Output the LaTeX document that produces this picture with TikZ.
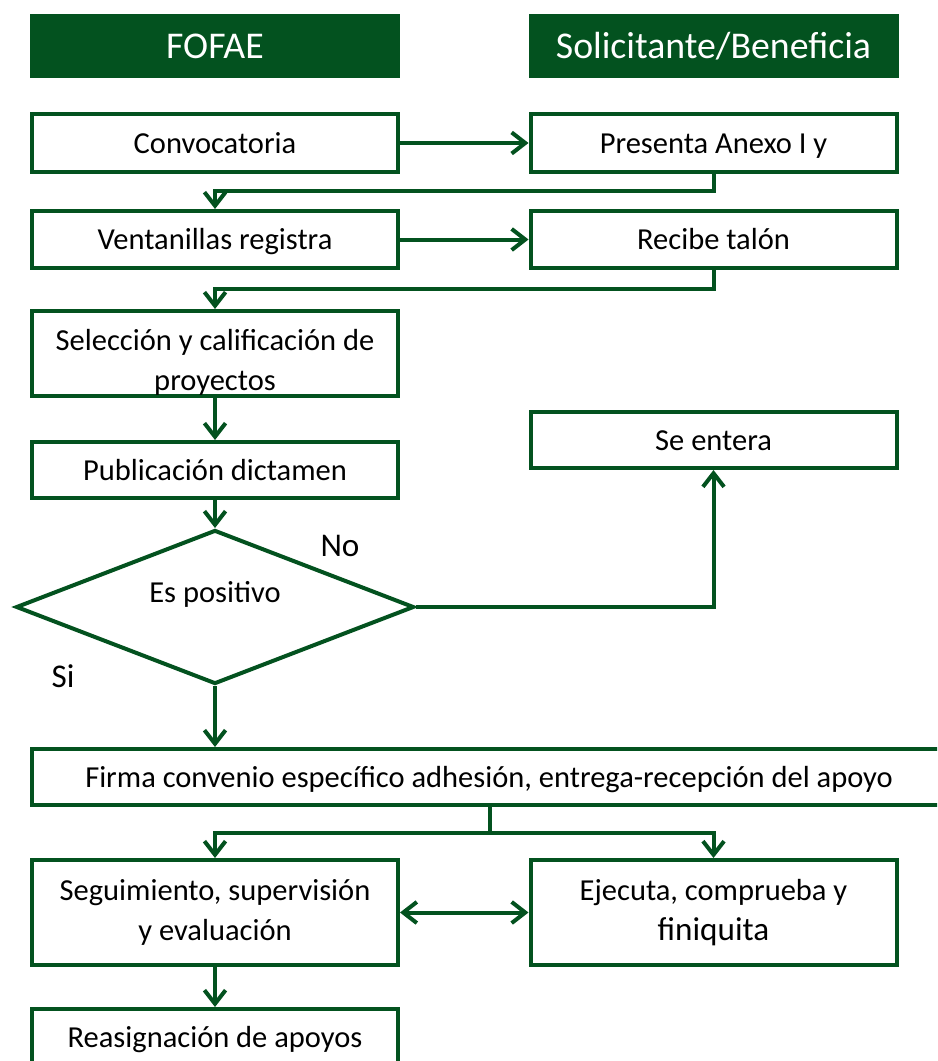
\documentclass[tikz,border=0pt]{standalone}
\usepackage{fontspec}
\setmainfont{Carlito}
\usepackage{xcolor}
\usepackage{tikz}
\usetikzlibrary{shapes.geometric, arrows.meta, positioning}
\definecolor{fgreen}{HTML}{03521F}
\def\u{0.0265cm}
\tikzset{
  headbox/.style={rectangle, fill=fgreen, text=white, minimum width=370*\u,
                  minimum height=64*\u, inner sep=0pt, font=\fontsize{28.5}{32}\selectfont},
  procbox/.style={rectangle, draw=fgreen, line width=4*\u, fill=white, minimum width=366*\u,
                  text centered, align=center, inner sep=0pt, font=\fontsize{23}{30.5}\selectfont},
  onebox/.style={procbox, text height=20pt, text depth=4.5pt},
  decbox/.style={diamond, aspect=2.6, draw=fgreen, line width=4*\u, minimum width=398*\u,
                 minimum height=154*\u, inner sep=0pt, font=\fontsize{23}{26}\selectfont},
  flow/.style={-{Straight Barb[length=3.6mm, width=5.6mm]}, draw=fgreen, line width=4*\u},
  flowboth/.style={{Straight Barb[length=3.6mm, width=5.6mm]}-{Straight Barb[length=3.6mm, width=5.6mm]},
                   draw=fgreen, line width=4*\u},
  link/.style={draw=fgreen, line width=4*\u},
  choice/.style={font=\fontsize{25}{28}\selectfont},
}
\begin{document}
\begin{tikzpicture}[x=0.0265cm, y=-0.0265cm]
      \useasboundingbox (0,0) rectangle (937,1061);
      \clip (0,0) rectangle (937,1061);

      % Column centres
      \def\xF{215}
      \def\xS{713.5}

      % Headers
      \node[headbox] (hfofae) at (\xF,46) {FOFAE};
      \node[headbox] (hsolic) at (\xS,46) {Solicitante/Beneficia};

      % FOFAE steps
      \node[onebox, minimum height=58*\u] (conv) at (\xF,143) {Convocatoria};
      \node[onebox, minimum height=57*\u] (vent) at (\xF,239.5) {Ventanillas registra};
      \node[procbox, minimum height=85*\u] (selec) at (\xF,353.5) {\rule{0pt}{29pt}Selección y calificación de\\proyectos};
      \node[onebox, minimum height=56*\u] (publ) at (\xF,470) {Publicación dictamen};
      \node[decbox] (pos) at (\xF,607) {Es positivo\rule[-22pt]{0pt}{0pt}};

      % Applicant steps
      \node[onebox, minimum height=58*\u] (anexo) at (\xS,143) {Presenta Anexo I y};
      \node[onebox, minimum height=57*\u] (talon) at (\xS,239.5) {Recibe talón};
      \node[onebox, minimum height=56*\u] (entera) at (\xS,440) {Se entera};

      % Shared steps
      \node[onebox, minimum width=934*\u, minimum height=56*\u] (firma) at (499,777)
            {\hspace*{-15pt}Firma convenio específico adhesión, entrega-recepción del apoyo};
      \node[procbox, minimum height=105*\u] (segui) at (\xF,912.5) {Seguimiento, supervisión\\y evaluación};
      \node[procbox, minimum height=105*\u] (ejec) at (\xS,912.5) {Ejecuta, comprueba y\\\fontsize{25}{30}\selectfont finiquita};
      \node[procbox, minimum height=70*\u, anchor=north] (reasig) at (\xF,1007) {\raisebox{10pt}{Reasignación de apoyos}};

      % Branch labels
      \node[choice] (lno) at (340,546) {No};
      \node[choice] (lsi) at (63,676) {Si};

      % Connectors
      \coordinate (split) at (490,833);
      \draw[flow] (conv.east) -- (anexo.west);
      \draw[flow] (anexo.south) -- ++(0,17) -| (vent.north);
      \draw[flow] (vent.east) -- (talon.west);
      \draw[flow] (talon.south) -- ++(0,19) -| (selec.north);
      \draw[flow] (selec.south) -- (publ.north);
      \draw[flow] (publ.south) -- (pos.north);
      \draw[flow] (pos.east) -| (entera.south);
      \draw[flow] (pos.south) -- (firma.north -| pos.south);
      \draw[link] (firma.south -| split) -- (split);
      \draw[flow] (split) -| (segui.north);
      \draw[flow] (split) -| (ejec.north);
      \draw[flowboth] (segui.east) -- (ejec.west);
      \draw[flow] (segui.south) -- (reasig.north);

\end{tikzpicture}
\end{document}
